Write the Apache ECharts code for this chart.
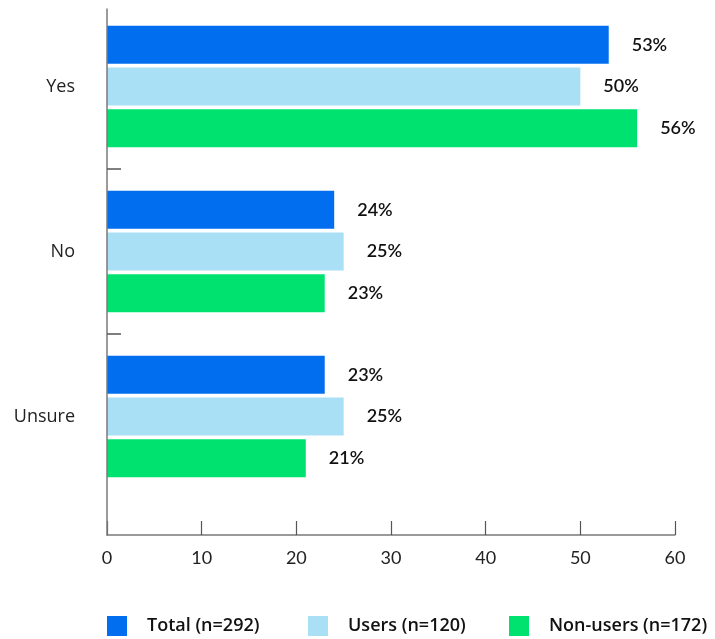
<!DOCTYPE html>
<html>
<head>
<meta charset="utf-8">
<script src="https://cdn.jsdelivr.net/npm/echarts@6/dist/echarts.min.js"></script>
<style>
  html, body { margin: 0; padding: 0; background: #ffffff; }
  #chart { width: 715px; height: 639px; }
</style>
</head>
<body>
<div id="chart"></div>
<script>
// Survey answers, one bar per respondent group
const categories = ['Yes', 'No', 'Unsure'];
const seriesNames = ['Total (n=292)', 'Users (n=120)', 'Non-users (n=172)'];
const totalValues = [53, 24, 23];
const userValues = [50, 25, 25];
const nonUserValues = [56, 23, 21];
const xTicks = { min: 0, max: 60, interval: 10 };

const colors = ['#006EEF', '#A9E0F5', '#00E270'];

// Layout constants (pixels)
const LEFT = 107, RIGHT = 40;
const GRID_TOP = 4, BAND = 165;
const FRAME_TOP = 9, FRAME_BOTTOM = 535;
const H = 639;
const gridBottom = GRID_TOP + BAND * categories.length;
const LEGEND_LEFT = 102, LEGEND_STEP = 201, LEGEND_TOP = 611;

// The frame's vertical axis is expressed in category units (0 = centre of first band)
const frameMin = (FRAME_TOP - (GRID_TOP + BAND / 2)) / BAND;
const frameMax = (FRAME_BOTTOM - (GRID_TOP + BAND / 2)) / BAND;
const bandEdges = categories.slice(1).map((_, i) => i + 0.5);

const axisColor = '#7a7a7a';
const tickColor = '#555555';

const labelStyle = {
  show: true,
  position: 'right',
  distance: 23,
  formatter: '{c}%',
  fontFamily: 'Lato',
  fontSize: 18,
  fontWeight: 600,
  color: '#111111'
};

function barSeries(name, values, color) {
  return {
    name: name,
    type: 'bar',
    xAxisIndex: 0,
    yAxisIndex: 0,
    data: values,
    barWidth: 38,
    barGap: '10%',
    itemStyle: { color: color },
    label: labelStyle
  };
}

// One legend block per series so the entries sit on an even pitch
const legends = seriesNames.map((name, i) => ({
  left: LEGEND_LEFT + i * LEGEND_STEP,
  top: LEGEND_TOP,
  icon: 'rect',
  itemWidth: 20,
  itemHeight: 20,
  data: [name],
  selectedMode: false,
  textStyle: {
    fontFamily: 'Open Sans',
    fontSize: 18,
    fontWeight: 600,
    color: '#111111',
    padding: [0, 0, 0, 15]
  }
}));

const chart = echarts.init(document.getElementById('chart'), null, { renderer: 'canvas' });

chart.setOption({
  animation: false,
  backgroundColor: '#ffffff',
  legend: legends,
  grid: [
    { left: LEFT, right: RIGHT, top: GRID_TOP, bottom: H - gridBottom, containLabel: false },
    { left: LEFT, right: RIGHT, top: FRAME_TOP, bottom: H - FRAME_BOTTOM, containLabel: false }
  ],
  xAxis: [
    {
      gridIndex: 0,
      type: 'value',
      min: xTicks.min,
      max: xTicks.max,
      interval: xTicks.interval,
      offset: FRAME_BOTTOM - gridBottom,
      axisLine: { show: true, lineStyle: { color: axisColor, width: 1.5 } },
      axisTick: { show: true, inside: true, length: 14, lineStyle: { color: tickColor, width: 1.2 } },
      axisLabel: { margin: 14, fontFamily: 'Lato', fontSize: 18, color: '#222222' },
      splitLine: { show: false }
    },
    {
      gridIndex: 1,
      type: 'value',
      min: xTicks.min,
      max: xTicks.max,
      show: false
    }
  ],
  yAxis: [
    {
      gridIndex: 0,
      type: 'category',
      inverse: true,
      data: categories,
      axisLine: { show: false },
      axisTick: { show: false },
      axisLabel: { margin: 32, fontFamily: 'Open Sans', fontSize: 18, color: '#222222' }
    },
    {
      gridIndex: 1,
      type: 'value',
      inverse: true,
      min: frameMin,
      max: frameMax,
      z: 5,
      axisLine: { show: true, lineStyle: { color: axisColor, width: 1.5 } },
      axisTick: { show: true, inside: true, length: 14, customValues: bandEdges, lineStyle: { color: tickColor, width: 1.5 } },
      axisLabel: { show: false },
      splitLine: { show: false }
    }
  ],
  series: [
    barSeries(seriesNames[0], totalValues, colors[0]),
    barSeries(seriesNames[1], userValues, colors[1]),
    barSeries(seriesNames[2], nonUserValues, colors[2])
  ]
});
</script>
</body>
</html>
